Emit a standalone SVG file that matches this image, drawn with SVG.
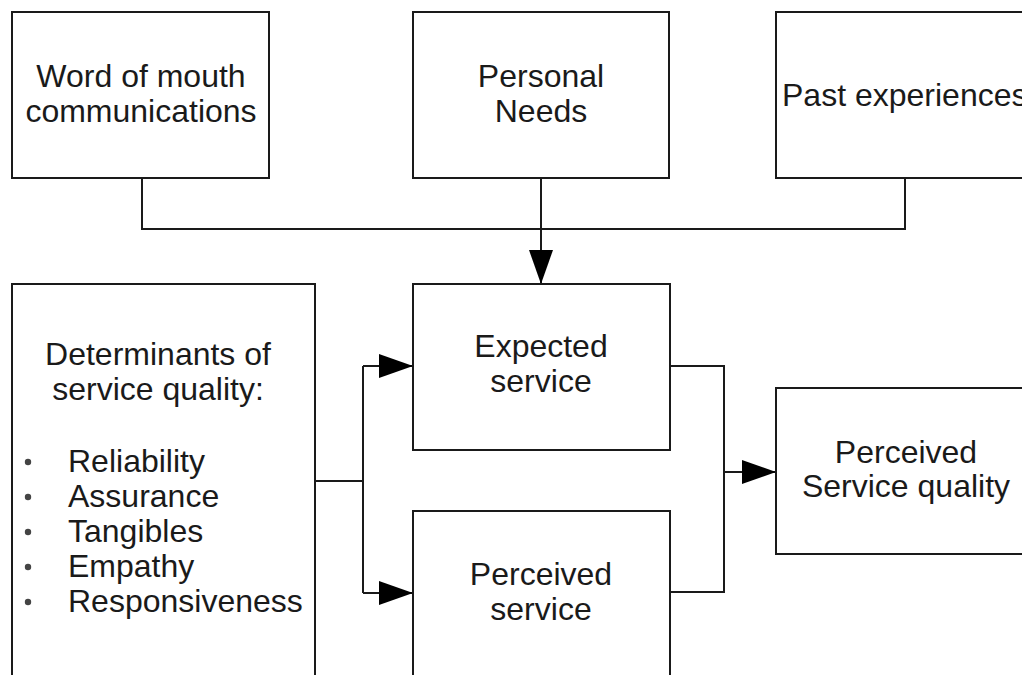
<svg xmlns="http://www.w3.org/2000/svg" width="1022" height="675" viewBox="0 0 1022 675">
  <style>
    .box { fill: #ffffff; stroke: #1a1a1a; stroke-width: 2; }
    .lbl { font-family: "Liberation Sans", Arial, sans-serif; font-size: 32px; fill: #1a1a1a; }
    .mid { text-anchor: middle; }
    .wire { fill: none; stroke: #1a1a1a; stroke-width: 2; }
    .dot { fill: #444444; }
  </style>
  <defs>
    <marker id="arrow" markerUnits="userSpaceOnUse" markerWidth="36" markerHeight="26" refX="34" refY="12" orient="auto">
      <path d="M0,0 L34,12 L0,24 Z" fill="#000000"/>
    </marker>
  </defs>
  <rect width="1022" height="675" fill="#ffffff"/>

  <!-- connectors -->
  <g id="connectors">
    <path class="wire" d="M142,178 V229 H905 V178"/>
    <path class="wire" d="M541,178 V284" marker-end="url(#arrow)"/>
    <path class="wire" d="M315,481 H363"/>
    <path class="wire" d="M363,366 V593"/>
    <path class="wire" d="M363,366 H413" marker-end="url(#arrow)"/>
    <path class="wire" d="M363,593 H413" marker-end="url(#arrow)"/>
    <path class="wire" d="M670,366 H724 V592 H670"/>
    <path class="wire" d="M724,472 H776" marker-end="url(#arrow)"/>
  </g>

  <g id="word-of-mouth">
    <rect class="box" x="12" y="12" width="257" height="166"/>
    <text class="lbl mid" x="141" y="87">Word of mouth</text>
    <text class="lbl mid" x="141" y="122">communications</text>
  </g>

  <g id="personal-needs">
    <rect class="box" x="413" y="12" width="256" height="166"/>
    <text class="lbl mid" x="541" y="87">Personal</text>
    <text class="lbl mid" x="541" y="122">Needs</text>
  </g>

  <g id="past-experiences">
    <rect class="box" x="776" y="12" width="270" height="166"/>
    <text class="lbl" x="782" y="106">Past experiences</text>
  </g>

  <g id="determinants">
    <rect class="box" x="12" y="284" width="303" height="410"/>
    <text class="lbl mid" x="158" y="365">Determinants of</text>
    <text class="lbl mid" x="158" y="400">service quality:</text>
    <circle class="dot" cx="28" cy="462" r="3.2"/>
    <circle class="dot" cx="28" cy="497" r="3.2"/>
    <circle class="dot" cx="28" cy="532" r="3.2"/>
    <circle class="dot" cx="28" cy="567" r="3.2"/>
    <circle class="dot" cx="28" cy="602" r="3.2"/>
    <text class="lbl" x="68" y="472">Reliability</text>
    <text class="lbl" x="68" y="507">Assurance</text>
    <text class="lbl" x="68" y="542">Tangibles</text>
    <text class="lbl" x="68" y="577">Empathy</text>
    <text class="lbl" x="68" y="612">Responsiveness</text>
  </g>

  <g id="expected-service">
    <rect class="box" x="413" y="284" width="257" height="166"/>
    <text class="lbl mid" x="541" y="357">Expected</text>
    <text class="lbl mid" x="541" y="392">service</text>
  </g>

  <g id="perceived-service">
    <rect class="box" x="413" y="511" width="257" height="200"/>
    <text class="lbl mid" x="541" y="585">Perceived</text>
    <text class="lbl mid" x="541" y="620">service</text>
  </g>

  <g id="perceived-service-quality">
    <rect class="box" x="776" y="388" width="270" height="166"/>
    <text class="lbl mid" x="906" y="463">Perceived</text>
    <text class="lbl mid" x="906" y="497">Service quality</text>
  </g>
</svg>
